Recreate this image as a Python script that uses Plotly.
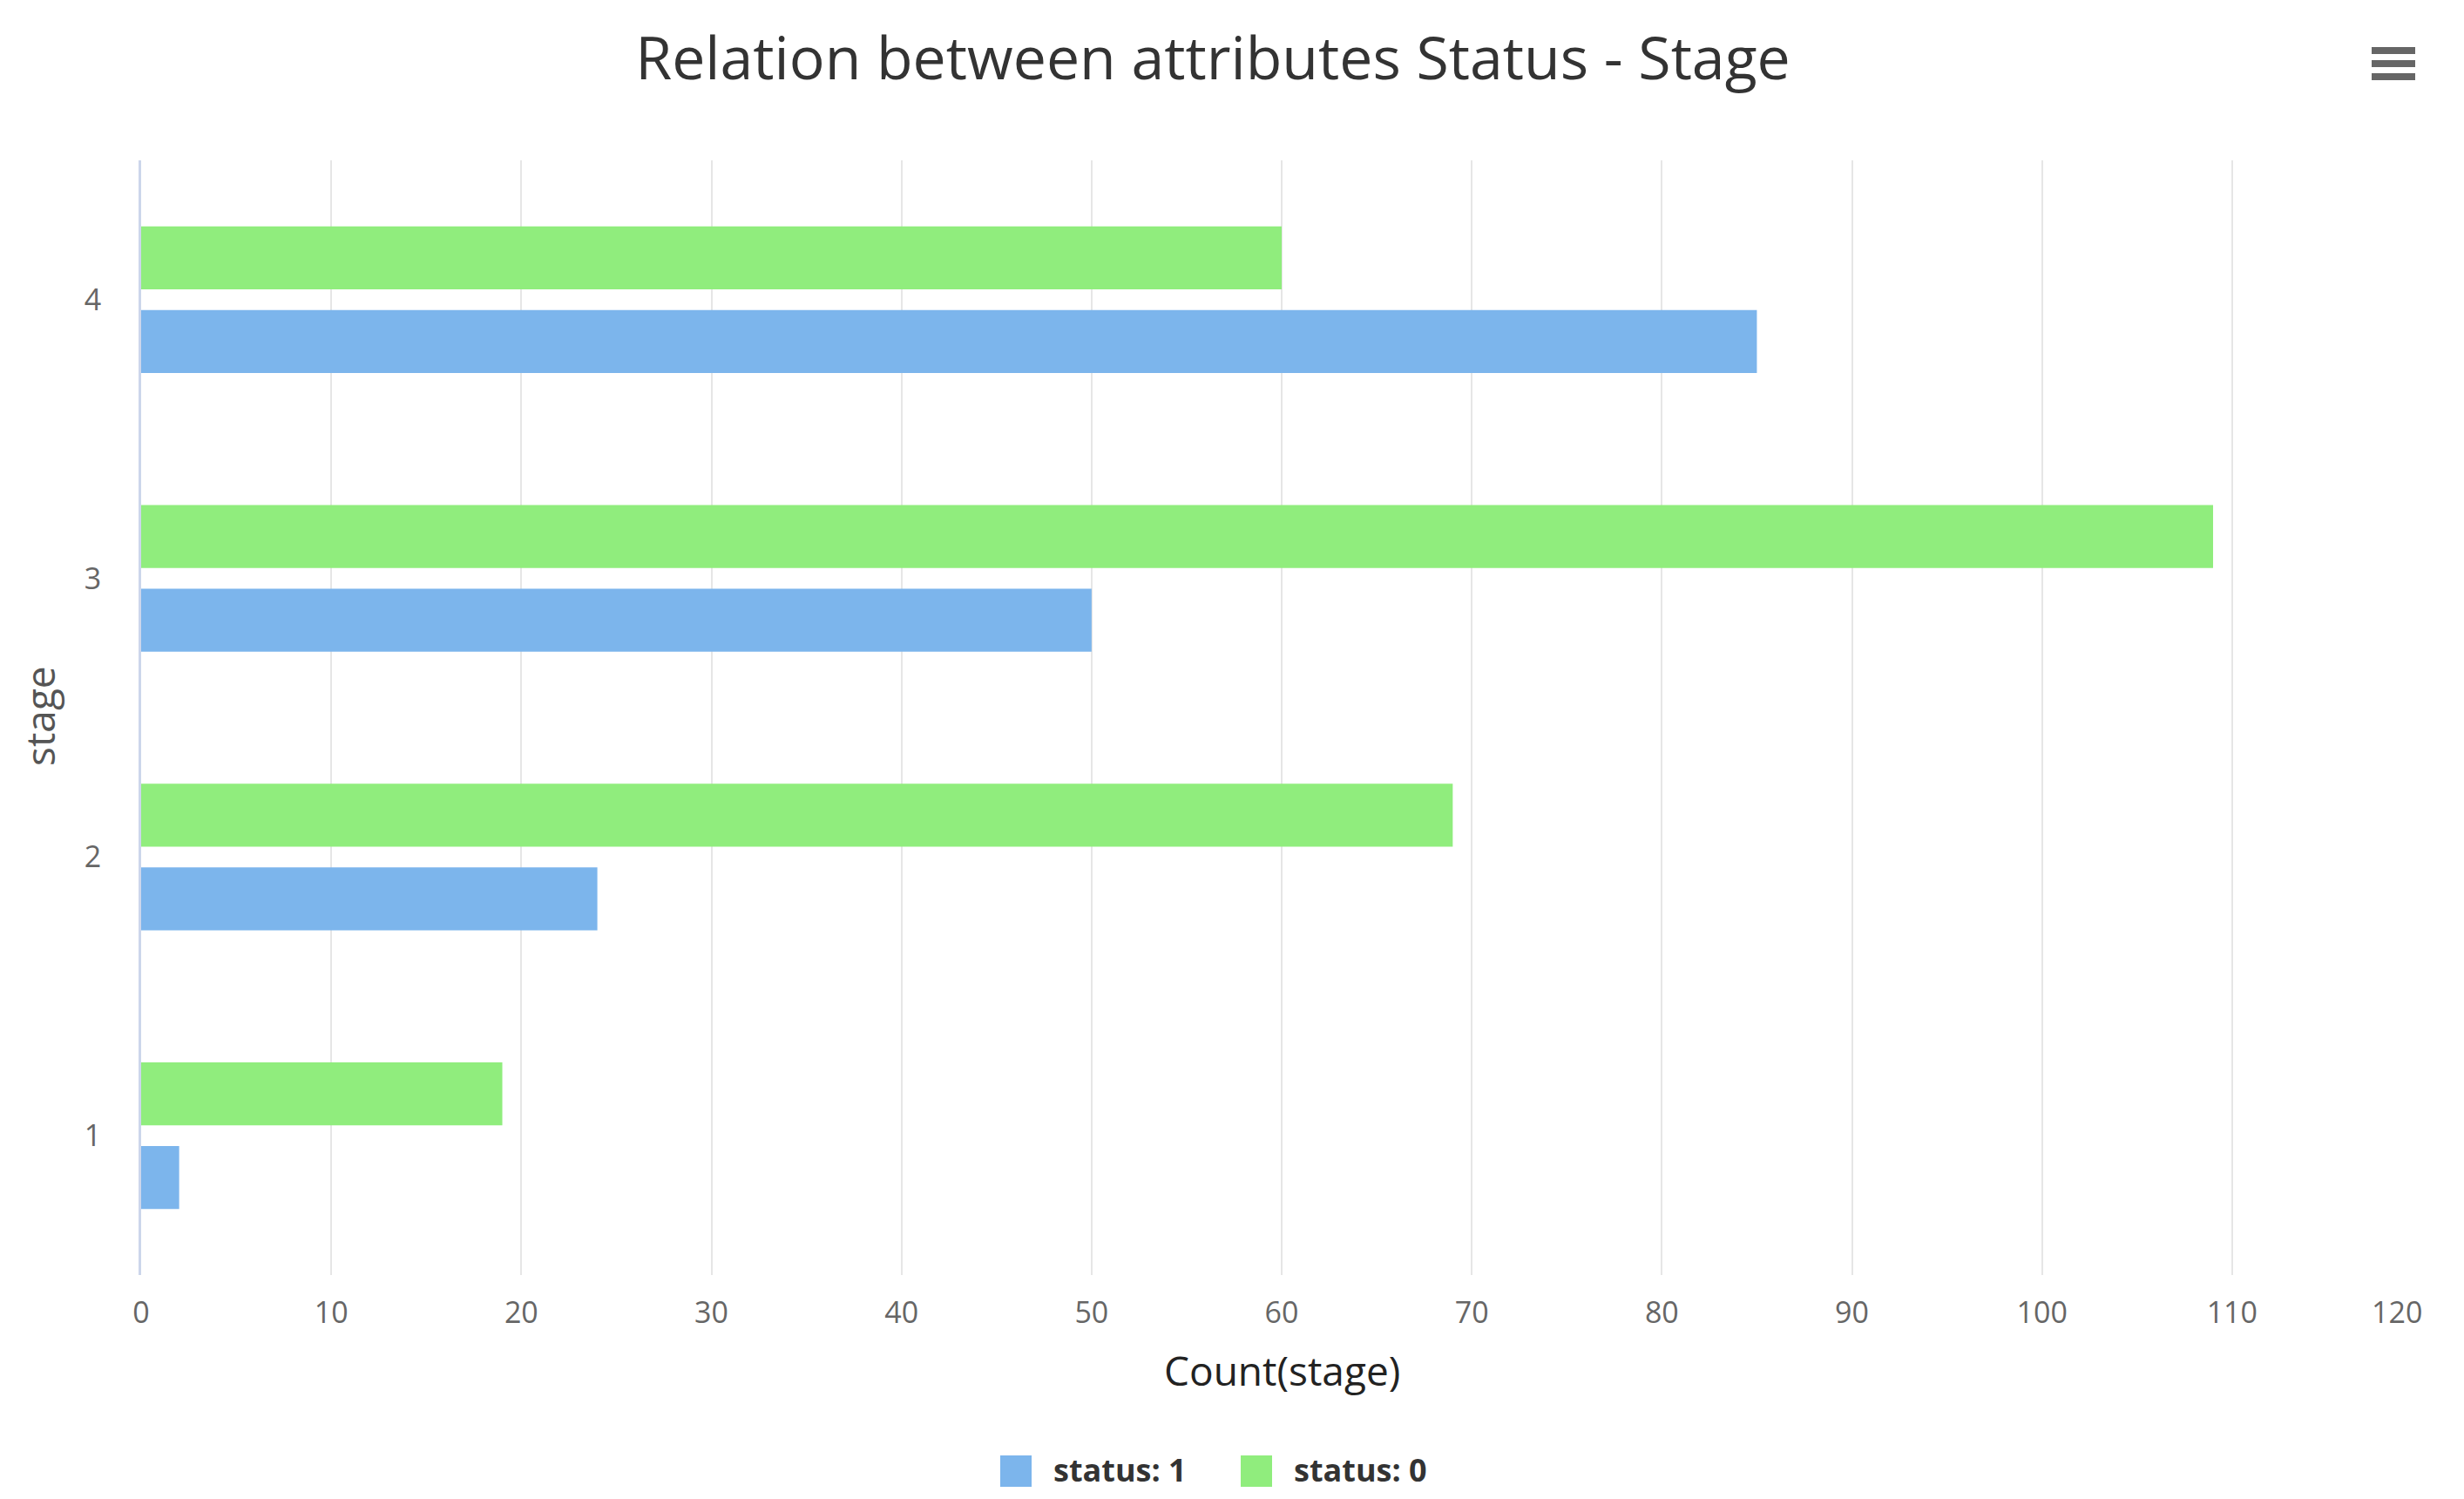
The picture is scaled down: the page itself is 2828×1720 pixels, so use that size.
import plotly.graph_objects as go

# ---- data ----
stages = [1, 2, 3, 4]
status_1 = [2, 24, 50, 85]
status_0 = [19, 69, 109, 60]
series_names = ["status: 1", "status: 0"]
series_colors = ["#7cb5ec", "#90ed7d"]
x_ticks = list(range(0, 121, 10))

# page is 2828x1720; the html body adds an 8px margin
OFF = 8
W, H = 2828 - OFF, 1720 - OFF
PL, PR, PT, PB = 162, 2780, 184, 1463     # plot area in page pixels
L, T = PL - OFF, PT - OFF
R, B = 2828 - PR, 1720 - PB
PW, PH = PR - PL, PB - PT


def px_x(px):
    return (px - PL) / PW


def px_y(py):
    return (PB - py) / PH


FONT = "Open Sans"
TICK_FONT = dict(family=FONT, size=34, color="#666666")

fig = go.Figure()
fig.add_trace(go.Bar(y=stages, x=status_1, name=series_names[0], orientation="h",
                     marker=dict(color=series_colors[0], line=dict(width=0))))
fig.add_trace(go.Bar(y=stages, x=status_0, name=series_names[1], orientation="h",
                     marker=dict(color=series_colors[1], line=dict(width=0))))

shapes = []
annotations = []

# custom legend
LEG_Y = 1688
legend_items = [(1166, 1207), (1442, 1483)]
for (cx, tx), name, color in zip(legend_items, series_names, series_colors):
    s = 18
    shapes.append(dict(type="rect", xref="paper", yref="paper",
                       x0=px_x(cx - s), x1=px_x(cx + s), y0=px_y(LEG_Y + s), y1=px_y(LEG_Y - s),
                       fillcolor=color, line=dict(width=0)))
    annotations.append(dict(text="<b>" + name + "</b>", xref="paper", yref="paper",
                            x=px_x(tx), y=px_y(LEG_Y - 2), xanchor="left", yanchor="middle",
                            showarrow=False, font=dict(family=FONT, size=36, color="#333333")))

# menu icon
for yy in (58, 73, 88):
    shapes.append(dict(type="rect", xref="paper", yref="paper",
                       x0=px_x(2722), x1=px_x(2772), y0=px_y(yy + 4), y1=px_y(yy - 4),
                       fillcolor="#666666", line=dict(width=0)))

# last x tick label is kept inside the chart (shifted left like the original)
tick_text = [str(v) for v in x_ticks]
last_label = tick_text[-1]
tick_text[-1] = ""
annotations.append(dict(text=last_label, xref="x", yref="paper", x=x_ticks[-1],
                        y=px_y(1505), xanchor="center", yanchor="middle", xshift=-29,
                        showarrow=False, font=TICK_FONT))

# axis titles
annotations.append(dict(text="Count(stage)", xref="paper", yref="paper",
                        x=0.5, y=px_y(1572), xanchor="center", yanchor="middle",
                        showarrow=False, font=dict(family=FONT, size=46, color="#222222")))
annotations.append(dict(text="stage", xref="paper", yref="paper",
                        x=px_x(45), y=px_y(822), xanchor="center", yanchor="middle", textangle=-90,
                        showarrow=False, font=dict(family=FONT, size=46, color="#555555")))

fig.update_layout(
    width=W, height=H,
    margin=dict(l=L, r=R, t=T, b=B, autoexpand=False),
    paper_bgcolor="white", plot_bgcolor="white",
    title=dict(text="Relation between attributes Status - Stage",
               x=(1392 - OFF) / W, xref="container", xanchor="center",
               y=1 - (67 - OFF) / H, yref="container", yanchor="middle",
               font=dict(family=FONT, size=68, color="#333333")),
    barmode="group", bargap=0.40, bargroupgap=0.245,
    showlegend=False,
    shapes=shapes, annotations=annotations,
    xaxis=dict(range=[0, 120], tickvals=x_ticks, ticktext=tick_text,
               showgrid=True, gridcolor="#e6e6e6", gridwidth=2, zeroline=False,
               showline=False, ticks="", ticklabelstandoff=20, automargin=False,
               tickfont=TICK_FONT),
    yaxis=dict(range=[0.5, 4.5], tickvals=stages, ticktext=[str(s) for s in stages],
               showgrid=False, zeroline=False, showline=True, linecolor="#ccd6eb",
               linewidth=3, ticks="", ticklabelstandoff=36, automargin=False,
               tickfont=TICK_FONT),
)

fig.write_html("out.html")
